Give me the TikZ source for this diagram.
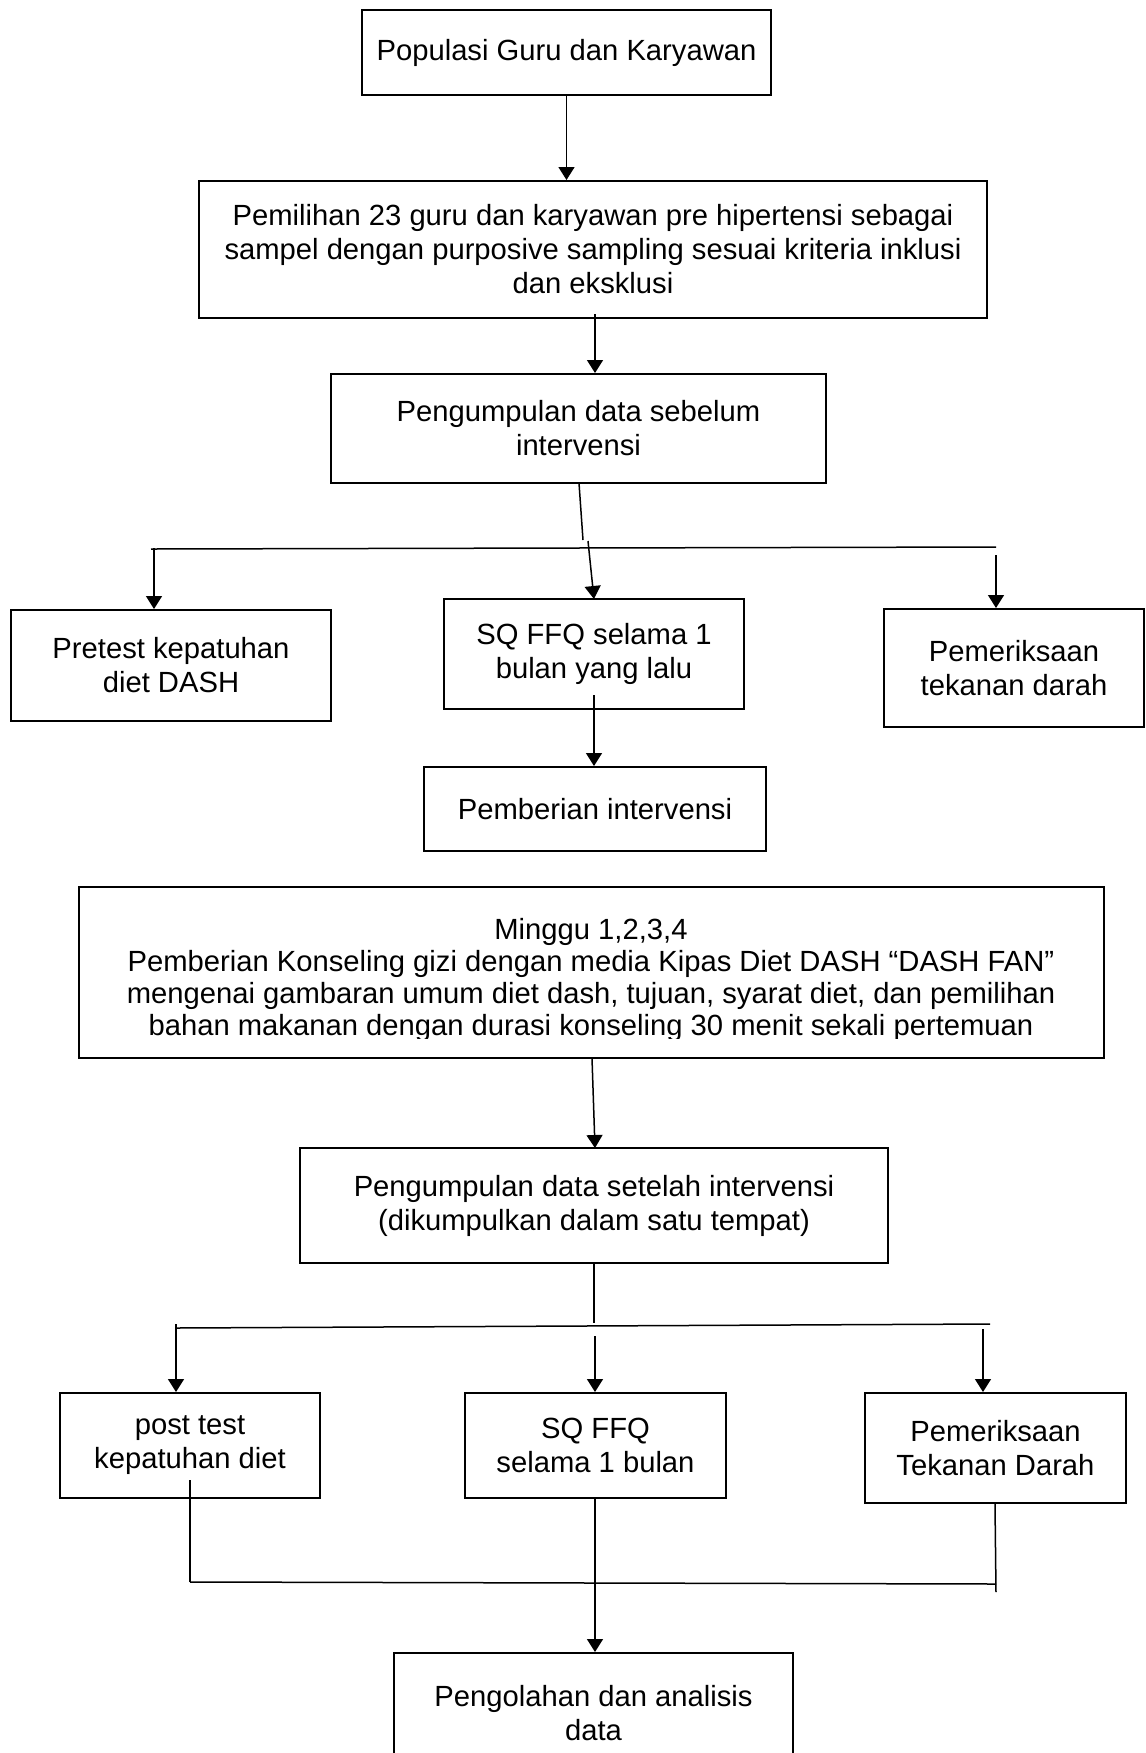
\documentclass[tikz,border=0pt]{standalone}
\usepackage{fontspec}
\setmainfont{Liberation Sans}
\usetikzlibrary{arrows.meta}
\newcommand\bx[6]{\node[box, minimum width={(#4-#2)*0.5}, minimum height={(#5-#3)*0.5}] (#1) at ({(#2+#4)/2},{(#3+#5)/2}) {#6};}
\begin{document}
\begin{tikzpicture}[x=0.5pt,y=-0.5pt,
  box/.style={draw, line width=1pt, align=center, inner sep=0pt, font=\fontsize{14.6}{17}\selectfont},
  arr/.style={line width=0.75pt, -{Triangle[length=6.5pt,width=8pt]}},
  ln/.style={line width=0.75pt}]
\useasboundingbox (0,0) rectangle (1146,1753);
\bx{pop}{362}{10}{771}{95}{Populasi Guru dan Karyawan}
\bx{pem}{199}{181}{987}{318}{\raisebox{-5pt}{\parbox{380pt}{\centering Pemilihan 23 guru dan karyawan pre hipertensi sebagai\\sampel dengan purposive sampling sesuai kriteria inklusi\\dan eksklusi}}}
\bx{pre}{331}{374}{826}{483}{Pengumpulan data sebelum\\intervensi}
\bx{pt1}{11}{610}{331}{721}{Pretest kepatuhan\\diet DASH}
\bx{sq1}{444}{599}{744}{709}{SQ FFQ selama 1\\bulan yang lalu}
\bx{tk1}{884}{609}{1144}{727}{Pemeriksaan\\tekanan darah}
\bx{int}{424}{767}{766}{851}{Pemberian intervensi}
\bx{min}{79}{887}{1104}{1058}{}
\begin{scope}
\clip (79,887) rectangle (1104,1038);
\node[align=center, inner sep=0pt, font=\fontsize{14.6}{16}\selectfont] (mintext) at (591,980) {Minggu 1,2,3,4\\Pemberian Konseling gizi dengan media Kipas Diet DASH “DASH FAN”\\mengenai gambaran umum diet dash, tujuan, syarat diet, dan pemilihan\\bahan makanan dengan durasi konseling 30 menit sekali pertemuan};
\end{scope}
\bx{post}{300}{1148}{888}{1263}{Pengumpulan data setelah intervensi\\(dikumpulkan dalam satu tempat)}
\bx{pt2}{60}{1393}{320}{1498}{post test\\kepatuhan diet}
\bx{sq2}{465}{1393}{726}{1498}{SQ FFQ\\selama 1 bulan}
\bx{tk2}{865}{1393}{1126}{1503}{Pemeriksaan\\Tekanan Darah}
\bx{olah}{394}{1653}{793}{1773}{Pengolahan dan analisis\\data}
% connectors
\draw[arr] (pop.south) -- (pem.north -| pop.south);
\coordinate (a1) at (595,314);
\draw[arr] (a1) -- (a1 |- pre.north);
\coordinate (b0) at (579,483);
\coordinate (b1) at (583,540);
\draw[ln] (b0) -- (b1);
\coordinate (hL) at (151,549);
\coordinate (hR) at (996,547);
\draw[ln] (hL) -- (hR);
\coordinate (c1) at (154,548);
\draw[arr] (c1) -- (c1 |- pt1.north);
\coordinate (c2) at (588,541);
\draw[arr] (c2) -- (594,599);
\coordinate (c3) at (996,555);
\draw[arr] (c3) -- (c3 |- tk1.north);
\coordinate (d1) at (594,695);
\draw[arr] (d1) -- (d1 |- int.north);
\coordinate (e1) at (592,1058);
\draw[arr] (e1) -- (595,1148);
\coordinate (f1) at (594,1323);
\draw[ln] (post.south -| f1) -- (f1);
\coordinate (gL) at (176,1328);
\coordinate (gR) at (990,1324);
\draw[ln] (gL) -- (gR);
\coordinate (k1) at (176,1324);
\draw[arr] (k1) -- (k1 |- pt2.north);
\coordinate (k2) at (595,1336);
\draw[arr] (k2) -- (k2 |- sq2.north);
\coordinate (k3) at (983,1329);
\draw[arr] (k3) -- (k3 |- tk2.north);
\coordinate (m1) at (190,1480);
\coordinate (m2) at (190,1582);
\coordinate (m3) at (996,1592);
\coordinate (m4) at (996,1584);
\draw[ln] (m1) -- (m2);
\draw[ln] (tk2.south -| 995,0) -- (m3);
\draw[ln] (m2) -- (m4);
\draw[arr] (sq2.south -| 595,0) -- (olah.north -| 595,0);
\end{tikzpicture}
\end{document}
